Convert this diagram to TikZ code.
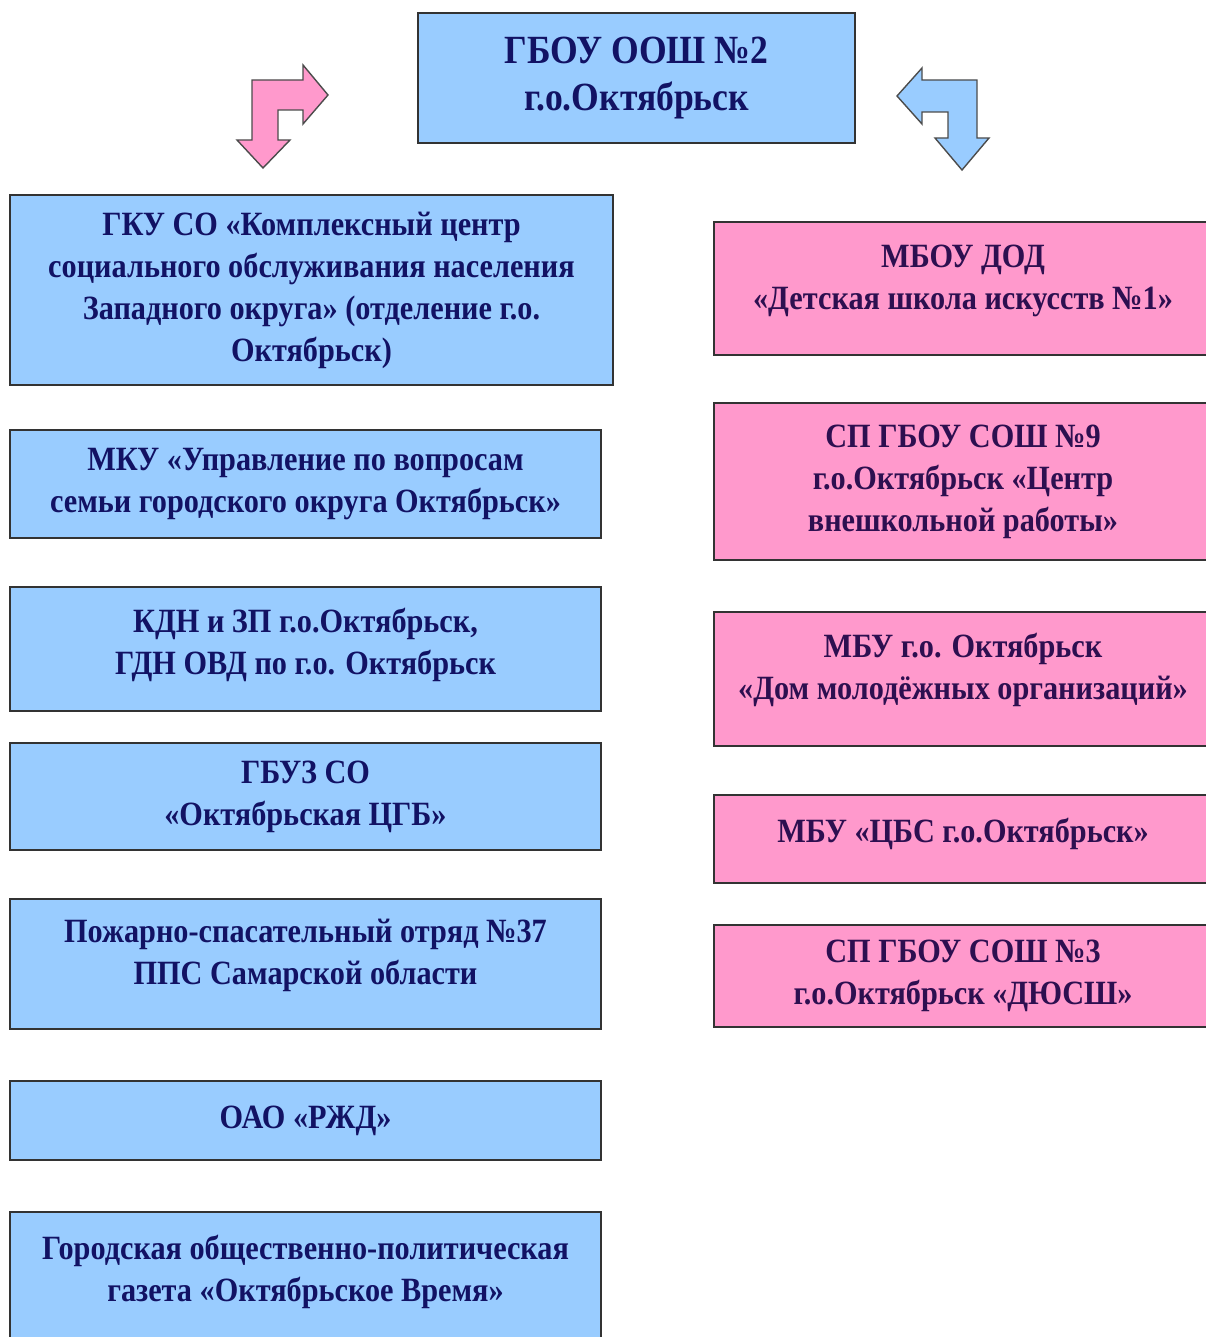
\documentclass[tikz,border=0pt]{standalone}
\usepackage{fontspec}
\setmainfont[FakeStretch=0.89]{Liberation Serif}
\usetikzlibrary{positioning}
\definecolor{boxblue}{RGB}{153,204,255}
\definecolor{boxpink}{RGB}{255,153,204}
\definecolor{inkblue}{RGB}{18,18,100}
\definecolor{inkplum}{RGB}{45,15,80}
\tikzset{
  orgbox/.style={
    rectangle,
    draw=black!80, line width=0.8pt,
    inner sep=0pt,
    align=center,
    font=\fontsize{17}{21}\selectfont\bfseries},
  bluebox/.style={orgbox, fill=boxblue, text=inkblue},
  pinkbox/.style={orgbox, fill=boxpink, text=inkplum},
  leftcol/.style={bluebox, minimum width=295.5pt},
  rightcol/.style={pinkbox, minimum width=249pt},
  lift/.style={text depth=#1},
}

\begin{document}
\begin{tikzpicture}[
    x=0.5pt, y=-0.5pt,
    turnarrow/.style={draw=black!70, line width=0.7pt, line join=miter}
    ]
    \useasboundingbox (0,0) rectangle (1205,1337);

    % school
    \node[bluebox, minimum width=218.5pt, minimum height=65pt,
          font=\fontsize{20}{23.5}\selectfont\bfseries] (school) at (636.5,78)
         {ГБОУ ООШ №2\\г.о.Октябрьск};

    % turning arrows
    \path[turnarrow, fill=boxpink] (252,80) -- (303,80) -- (303,65) -- (328,95)
         -- (303,124) -- (303,110) -- (278,110) -- (278,140) -- (290,140)
         -- (263,168) -- (237,140) -- (252,140) -- cycle;
    \path[turnarrow, fill=boxblue] (977,80) -- (922,80) -- (922,68) -- (897,96)
         -- (922,124) -- (922,112) -- (948,112) -- (948,138) -- (935,138)
         -- (962,170) -- (989,138) -- (977,138) -- cycle;

    % left column
    \node[bluebox, minimum width=301.5pt, minimum height=95pt] (social) at (311.5,290)
         {ГКУ СО «Комплексный центр\\социального обслуживания населения\\Западного округа» (отделение г.о.\\Октябрьск)};
    \node[leftcol, minimum height=54pt] (family) at (305.5,484)
         {МКУ «Управление по вопросам\\семьи городского округа Октябрьск»};
    \node[leftcol, minimum height=62pt, lift=7.5pt] (kdn) at (305.5,649)
         {КДН и ЗП г.о.Октябрьск,\\ГДН ОВД по г.о. Октябрьск};
    \node[leftcol, minimum height=53.5pt] (hospital) at (305.5,796.5)
         {ГБУЗ СО\\«Октябрьская ЦГБ»};
    \node[leftcol, minimum height=65pt, lift=12.5pt] (fire) at (305.5,964)
         {Пожарно-спасательный отряд №37\\ППС Самарской области};
    \node[leftcol, minimum height=39.5pt] (rzd) at (305.5,1120.5)
         {ОАО «РЖД»};
    \node[leftcol, minimum height=66.5pt, lift=10pt] (paper) at (305.5,1278.5)
         {Городская общественно-политическая\\газета «Октябрьское Время»};

    % right column
    \node[rightcol, minimum height=66.5pt, lift=11pt] (arts) at (963,288.5)
         {МБОУ ДОД\\«Детская школа искусств №1»};
    \node[rightcol, minimum height=78.5pt] (centre) at (963,481.5)
         {СП ГБОУ СОШ №9\\г.о.Октябрьск «Центр\\внешкольной работы»};
    \node[rightcol, minimum height=67pt, lift=13pt] (youth) at (963,679)
         {МБУ г.о. Октябрьск\\«Дом молодёжных организаций»};
    \node[rightcol, minimum height=44pt, lift=8.5pt] (library) at (963,839)
         {МБУ «ЦБС г.о.Октябрьск»};
    \node[rightcol, minimum height=51pt] (sport) at (963,976)
         {СП ГБОУ СОШ №3\\г.о.Октябрьск «ДЮСШ»};

\end{tikzpicture}
\end{document}
